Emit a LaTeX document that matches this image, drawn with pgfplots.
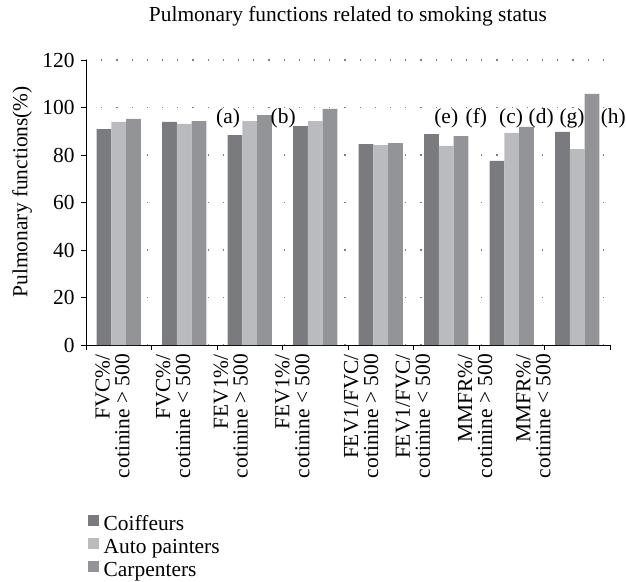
\documentclass[border=0pt]{standalone}
\usepackage{pgfplots}
\pgfplotsset{compat=1.18}
\usepackage{fontspec}
\setmainfont{Liberation Serif}
\definecolor{coif}{HTML}{7A7B7F}
\definecolor{auto}{HTML}{BABBBF}
\definecolor{carp}{HTML}{939498}
\newcommand{\fs}{\fontsize{21.5}{24}\selectfont}
\newcommand{\fsx}{\fontsize{21.5}{20}\selectfont}
\begin{document}
\begin{tikzpicture}
\useasboundingbox (-86bp,-237bp) rectangle (540bp,345bp);
\begin{axis}[
  scale only axis,
  width=524bp, height=285bp,
  xmin=-0.5, xmax=7.5, ymin=0, ymax=120,
  ybar=0pt, bar width=14.77bp,
  axis x line*=bottom, axis y line*=left,
  axis line style={-, black, line width=0.8bp},
  tick align=outside, major tick length=5bp,
  tick style={black, line width=0.8bp},
  xtick={-0.5,0.5,...,7.5}, xticklabels={},
  extra x ticks={-0.096,0.829,1.71,2.65,3.70,4.49,5.44,6.33},
  extra x tick labels={{FVC\%/\\cotinine > 500},{FVC\%/\\cotinine < 500},{FEV1\%/\\cotinine > 500},{FEV1\%/\\cotinine < 500},{FEV1/FVC/\\cotinine > 500},{FEV1/FVC/\\cotinine < 500},{MMFR\%/\\cotinine > 500},{MMFR\%/\\cotinine < 500}},
  extra x tick style={major tick length=0pt, xticklabel style={rotate=90, anchor=east, align=right, font=\fsx, inner sep=0bp, xshift=-9bp}},
  ytick={0,20,...,120},
  yticklabel style={font=\fs, xshift=-3bp},
  /pgf/number format/assume math mode=true,
  ymajorgrids=true,
  major grid style={gray, line width=1.2bp, dash pattern=on 1.2bp off 14bp},
  title={Pulmonary functions related to smoking status},
  title style={font=\fs, at={(0.5,1)}, anchor=base, yshift=33bp},
  ylabel={Pulmonary functions(\%)},
  ylabel style={font=\fs, at={(axis description cs:-0.122,0.538)}, anchor=center},
  clip=false,
  legend cell align=left,
  legend image code/.code={\fill[#1] (0bp,-1bp) rectangle (11bp,10bp);},
  legend style={at={(rel axis cs:0,0)}, anchor=north west, xshift=2bp, yshift=-168bp, draw=none, fill=none, inner sep=0pt, font=\fs, row sep=0bp, nodes={inner xsep=4.5bp, inner ysep=0bp, text height=17bp, text depth=6bp}},
]
\addplot[fill=coif, draw=none] coordinates {(0,90.9) (1,94.0) (2,88.4) (3,92.2) (4,84.6) (5,88.8) (6,77.5) (7,89.7)};
\addplot[fill=auto, draw=none] coordinates {(0,93.9) (1,93.1) (2,94.3) (3,94.3) (4,84.2) (5,83.8) (6,89.3) (7,82.5)};
\addplot[fill=carp, draw=none] coordinates {(0,95.2) (1,94.3) (2,96.8) (3,99.4) (4,85.0) (5,88.0) (6,91.8) (7,105.7)};
\legend{Coiffeurs, Auto painters, Carpenters}
\node[font=\fs] at (axis cs:1.67,95.6) {(a)};
\node[font=\fs] at (axis cs:2.51,95.6) {(b)};
\node[font=\fs] at (axis cs:5.00,95.6) {(e)};
\node[font=\fs] at (axis cs:5.46,95.6) {(f)};
\node[font=\fs] at (axis cs:5.99,95.6) {(c)};
\node[font=\fs] at (axis cs:6.45,95.6) {(d)};
\node[font=\fs] at (axis cs:6.92,95.6) {(g)};
\node[font=\fs] at (axis cs:7.55,95.6) {(h)};
\end{axis}
\end{tikzpicture}
\end{document}
